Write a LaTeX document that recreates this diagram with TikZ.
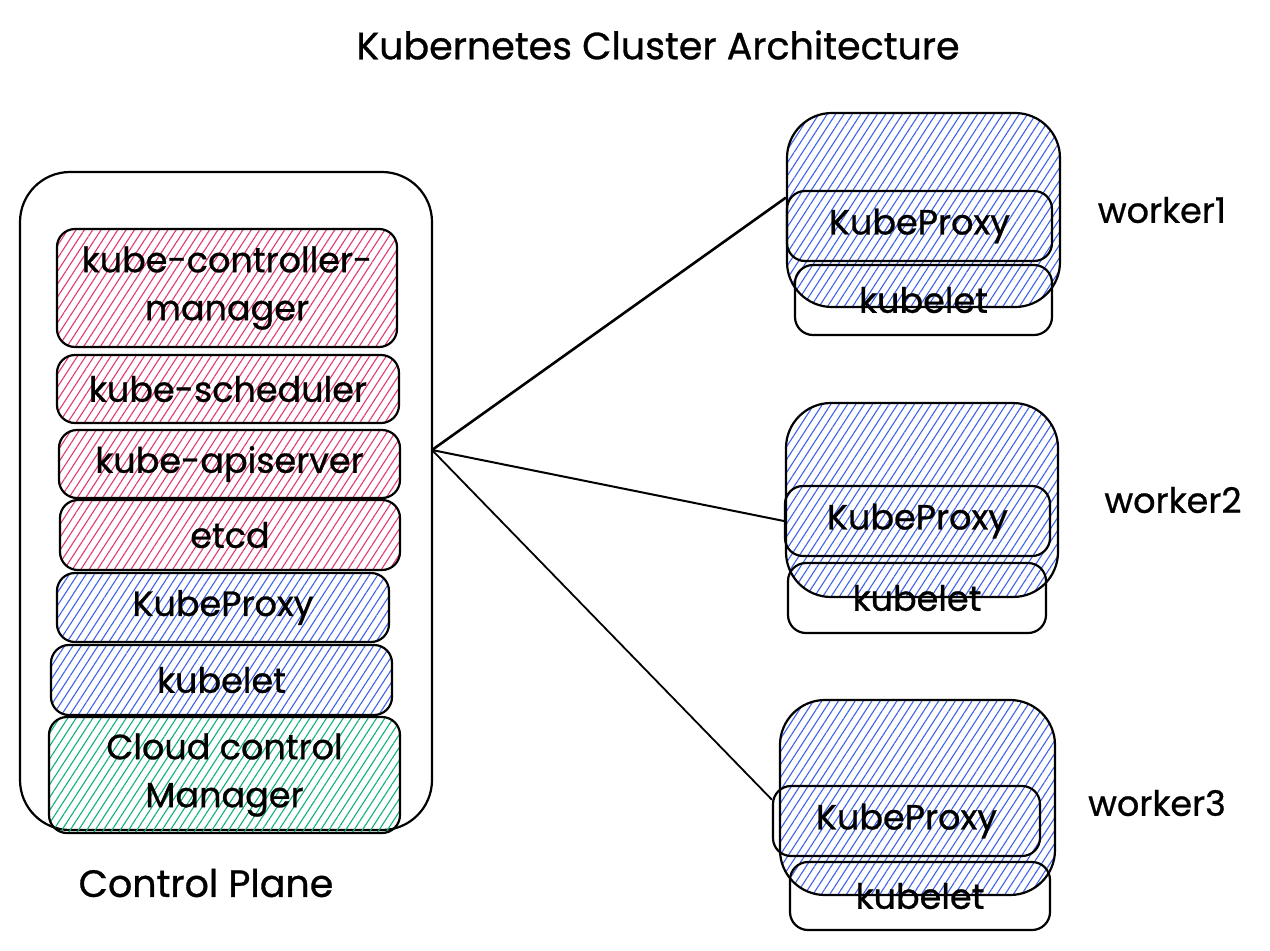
\documentclass[tikz,border=0pt]{standalone}
\usepackage{fontspec}
\setmainfont{Poppins}[FakeBold=0.8]
\usetikzlibrary{patterns.meta}
\definecolor{hatchred}{HTML}{E03A6E}
\definecolor{hatchblue}{HTML}{3F62EA}
\definecolor{hatchgreen}{HTML}{0FAF7E}
\begin{document}
\begin{tikzpicture}[x=1pt,y=-1pt,
    font=\fontsize{35}{48}\selectfont,
    box/.style={draw, line width=2.2pt, rounded corners=18pt, inner sep=0pt, align=center},
    redhatch/.style={pattern={Lines[angle=57,distance=7pt,line width=1.1pt]}, pattern color=hatchred},
    bluehatch/.style={pattern={Lines[angle=57,distance=7pt,line width=1.1pt]}, pattern color=hatchblue},
    greenhatch/.style={pattern={Lines[angle=57,distance=7pt,line width=1.1pt]}, pattern color=hatchgreen}]
    \useasboundingbox (0,0) rectangle (1270,951);

    % Title
    \node[font=\fontsize{38}{46}\selectfont] (title) at (658,45) {Kubernetes Cluster Architecture};

    % Control plane
    \node[box, rounded corners=50pt, minimum width=412, minimum height=658] (cp) at (226,501) {};
    \node[box, redhatch, minimum width=340, minimum height=118] (ccm) at (227,288) {kube-controller-\\manager};
    \node[box, redhatch, minimum width=342, minimum height=68] (sched) at (228,389) {kube-scheduler};
    \node[box, redhatch, minimum width=341, minimum height=68] (api) at (229.5,464) {kube-apiserver};
    \node[box, redhatch, minimum width=340, minimum height=70] (etcd) at (230,535) {etcd};
    \node[box, bluehatch, minimum width=332, minimum height=69] (kp0) at (223,607.5) {KubeProxy};
    \node[box, bluehatch, minimum width=341, minimum height=70] (kl0) at (221.5,680) {kubelet};
    \node[box, greenhatch, minimum width=351, minimum height=116] (cloud) at (224.5,775) {Cloud control\\Manager};
    \node[font=\fontsize{38}{46}\selectfont] (cplabel) at (206,883) {Control Plane};

    % Worker 1
    \node[box, bluehatch, rounded corners=45pt, minimum width=273, minimum height=194] (w1) at (923.5,210) {};
    \node[box, minimum width=257, minimum height=70] (kl1) at (923.5,300) {kubelet};
    \node[box, minimum width=265, minimum height=70] (kp1) at (919.5,226) {KubeProxy};
    \node (w1label) at (1162,210) {worker1};

    % Worker 2
    \node[box, bluehatch, rounded corners=45pt, minimum width=272, minimum height=194] (w2) at (922,500) {};
    \node[box, minimum width=258, minimum height=70] (kl2) at (917,598) {kubelet};
    \node[box, minimum width=265, minimum height=70] (kp2) at (917.5,521) {KubeProxy};
    \node (w2label) at (1173,500) {worker2};

    % Worker 3
    \node[box, bluehatch, rounded corners=45pt, minimum width=275, minimum height=195] (w3) at (917.5,797.5) {};
    \node[box, minimum width=260, minimum height=68] (kl3) at (920,896) {kubelet};
    \node[box, minimum width=267, minimum height=70] (kp3) at (906.5,821) {KubeProxy};
    \node (w3label) at (1157,803) {worker3};

    % Links
    \coordinate (hub) at (432,450);
    \draw[line width=2.6pt] (hub) -- (kp1.168);
    \draw[line width=2pt] (hub) -- (kp2.west);
    \draw[line width=1.8pt] (hub) -- (kp3.171);
\end{tikzpicture}
\end{document}
